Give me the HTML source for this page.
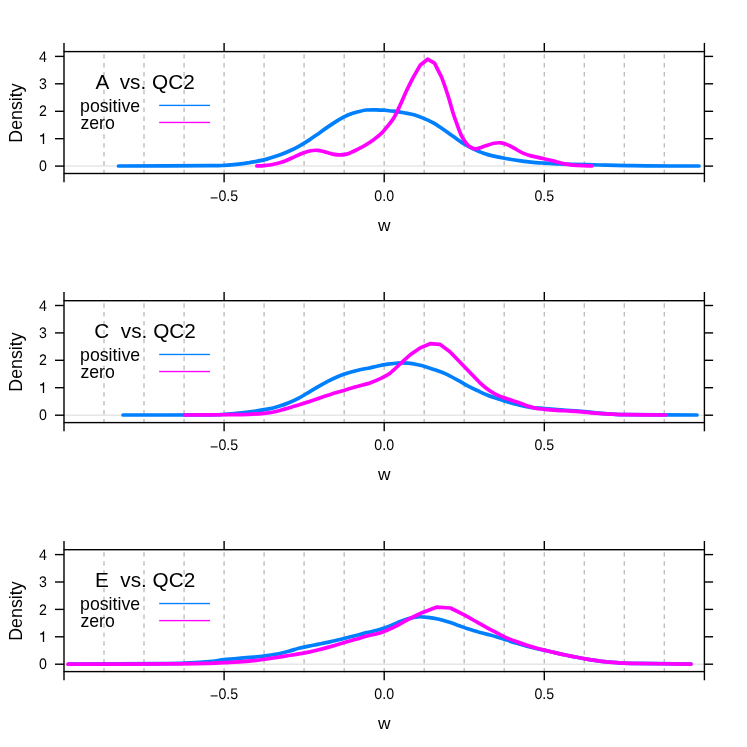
<!DOCTYPE html>
<html><head><meta charset="utf-8"><title>Density</title>
<style>
html,body{margin:0;padding:0;background:#fff;}
body{width:747px;height:747px;overflow:hidden;font-family:"Liberation Sans",sans-serif;}
svg{display:block;will-change:transform;}
text{font-family:"Liberation Sans",sans-serif;fill:#000;}
.tk{font-size:14.2px;text-rendering:geometricPrecision;}
.lb{font-size:17.3px;}
.lg{font-size:17.7px;}
.tt{font-size:20.75px;}
</style></head><body>
<svg width="747" height="747" viewBox="0 0 747 747">
<rect x="0" y="0" width="747" height="747" fill="#ffffff"/>

<g>
<line x1="64.0" y1="166.1" x2="704.35" y2="166.1" stroke="#e6e6e6" stroke-width="1.5"/>
<line x1="104.0" y1="174.30" x2="104.0" y2="51.6" stroke="#bebebe" stroke-width="1.4" stroke-dasharray="4.45,4.45"/>
<line x1="144.0" y1="174.30" x2="144.0" y2="51.6" stroke="#bebebe" stroke-width="1.4" stroke-dasharray="4.45,4.45"/>
<line x1="184.1" y1="174.30" x2="184.1" y2="51.6" stroke="#bebebe" stroke-width="1.4" stroke-dasharray="4.45,4.45"/>
<line x1="224.1" y1="174.30" x2="224.1" y2="51.6" stroke="#bebebe" stroke-width="1.4" stroke-dasharray="4.45,4.45"/>
<line x1="264.1" y1="174.30" x2="264.1" y2="51.6" stroke="#bebebe" stroke-width="1.4" stroke-dasharray="4.45,4.45"/>
<line x1="304.1" y1="174.30" x2="304.1" y2="51.6" stroke="#bebebe" stroke-width="1.4" stroke-dasharray="4.45,4.45"/>
<line x1="344.2" y1="174.30" x2="344.2" y2="51.6" stroke="#bebebe" stroke-width="1.4" stroke-dasharray="4.45,4.45"/>
<line x1="384.2" y1="174.30" x2="384.2" y2="51.6" stroke="#bebebe" stroke-width="1.4" stroke-dasharray="4.45,4.45"/>
<line x1="424.2" y1="174.30" x2="424.2" y2="51.6" stroke="#bebebe" stroke-width="1.4" stroke-dasharray="4.45,4.45"/>
<line x1="464.2" y1="174.30" x2="464.2" y2="51.6" stroke="#bebebe" stroke-width="1.4" stroke-dasharray="4.45,4.45"/>
<line x1="504.2" y1="174.30" x2="504.2" y2="51.6" stroke="#bebebe" stroke-width="1.4" stroke-dasharray="4.45,4.45"/>
<line x1="544.3" y1="174.30" x2="544.3" y2="51.6" stroke="#bebebe" stroke-width="1.4" stroke-dasharray="4.45,4.45"/>
<line x1="584.3" y1="174.30" x2="584.3" y2="51.6" stroke="#bebebe" stroke-width="1.4" stroke-dasharray="4.45,4.45"/>
<line x1="624.3" y1="174.30" x2="624.3" y2="51.6" stroke="#bebebe" stroke-width="1.4" stroke-dasharray="4.45,4.45"/>
<line x1="664.3" y1="174.30" x2="664.3" y2="51.6" stroke="#bebebe" stroke-width="1.4" stroke-dasharray="4.45,4.45"/>
<path d="M118.5,166.0 C133.6,165.9 191.4,165.8 209.0,165.7 C226.6,165.6 219.0,165.6 224.0,165.3 C228.9,165.0 234.8,164.5 238.9,164.1 C243.1,163.7 244.7,163.4 248.9,162.7 C253.1,162.0 258.9,161.1 263.9,159.9 C268.8,158.7 274.7,156.7 278.8,155.3 C283.0,153.9 285.5,152.8 288.8,151.3 C292.1,149.8 295.4,148.2 298.8,146.3 C302.1,144.5 305.4,142.5 308.7,140.4 C312.1,138.2 315.4,135.7 318.7,133.4 C322.0,131.0 325.4,128.6 328.7,126.4 C332.0,124.1 335.3,121.7 338.7,119.8 C342.0,117.9 345.4,116.1 348.6,114.8 C351.9,113.5 355.1,112.6 358.0,111.8 C360.9,111.0 363.0,110.4 366.0,110.0 C369.0,109.7 373.0,109.8 376.0,109.8 C378.9,109.9 380.9,110.0 383.9,110.2 C386.9,110.5 390.6,110.8 393.9,111.2 C397.2,111.7 400.6,112.2 403.9,112.8 C407.2,113.4 410.5,113.9 413.9,114.8 C417.2,115.7 420.5,117.0 423.8,118.4 C427.2,119.8 430.5,121.3 433.8,123.2 C437.1,125.1 440.5,127.5 443.8,129.8 C447.1,132.0 450.4,134.4 453.8,136.8 C457.1,139.1 460.4,141.7 463.7,143.7 C467.0,145.8 470.4,147.5 473.7,149.1 C477.0,150.7 480.3,152.2 483.7,153.3 C487.0,154.5 489.8,155.2 493.6,156.1 C497.5,157.0 502.8,157.9 507.0,158.7 C511.2,159.5 515.0,160.1 519.0,160.7 C523.0,161.3 526.8,161.7 530.9,162.1 C535.1,162.5 539.6,162.8 543.9,163.1 C548.2,163.4 552.4,163.6 556.9,163.8 C561.4,164.0 565.8,164.1 570.8,164.3 C575.8,164.4 580.8,164.5 586.8,164.7 C592.8,164.8 600.1,165.0 606.7,165.2 C613.4,165.3 620.0,165.5 626.7,165.6 C633.3,165.7 634.6,165.8 646.6,165.9 C658.7,166.0 690.3,166.0 699.0,166.0" fill="none" stroke="#0080ff" stroke-width="3.7" stroke-linecap="round" stroke-linejoin="round"/>
<path d="M256.9,165.9 C258.0,165.9 261.0,166.0 263.9,165.7 C266.7,165.4 270.5,165.0 273.8,164.3 C277.2,163.6 280.5,162.7 283.8,161.5 C287.1,160.3 290.5,158.6 293.8,157.1 C297.1,155.6 300.9,153.8 303.8,152.7 C306.6,151.7 308.4,151.1 310.7,150.7 C313.1,150.3 315.4,150.1 317.7,150.3 C320.0,150.5 322.2,151.3 324.7,151.9 C327.2,152.6 330.2,153.6 332.7,154.1 C335.2,154.6 337.3,154.9 339.7,154.9 C342.0,154.9 344.5,154.6 346.6,154.1 C348.8,153.6 350.7,152.6 352.6,151.7 C354.5,150.9 355.8,150.3 358.0,149.1 C360.2,148.0 363.3,146.4 366.0,144.7 C368.6,143.1 371.3,141.3 374.0,139.4 C376.6,137.4 379.6,135.0 381.9,132.8 C384.3,130.5 385.9,128.3 387.9,125.8 C389.9,123.3 391.9,121.2 393.9,117.8 C395.9,114.4 397.9,109.9 400.0,105.4 C402.1,100.9 404.2,95.7 406.4,91.0 C408.6,86.3 411.0,81.6 413.2,77.3 L420.1,65.3 L427.6,59.2 L434.5,63.2 L441.4,76.9 C443.7,82.4 446.2,90.1 448.1,96.0 C450.0,101.9 451.4,107.7 452.9,112.5 C454.4,117.3 455.7,120.8 457.1,124.6 C458.5,128.4 460.0,132.6 461.3,135.4 C462.6,138.2 463.7,139.7 464.9,141.4 C466.1,143.1 466.9,144.4 468.6,145.7 C470.3,146.9 472.6,148.8 475.2,148.9 C477.8,149.0 481.1,147.2 484.2,146.3 C487.3,145.4 491.1,143.8 493.9,143.2 C496.7,142.7 498.7,142.6 501.1,142.9 C503.5,143.2 506.0,144.1 508.3,145.1 C510.6,146.1 512.5,147.4 515.0,148.7 C517.4,150.1 520.3,151.9 523.0,153.1 C525.6,154.3 527.4,155.0 530.9,155.9 C534.4,156.8 540.2,157.9 543.9,158.7 C547.6,159.5 549.7,160.1 552.9,160.9 C556.0,161.7 559.5,162.8 562.9,163.5 C566.2,164.2 569.5,164.7 572.8,165.1 C576.2,165.5 579.6,165.6 582.8,165.7 C586.0,165.8 590.3,165.9 591.8,165.9" fill="none" stroke="#ff00ff" stroke-width="3.7" stroke-linecap="round" stroke-linejoin="round"/>
<rect x="64.0" y="51.6" width="640.4" height="121.9" fill="none" stroke="#000" stroke-width="1.4"/>
<line x1="64.0" y1="51.6" x2="64.0" y2="42.9" stroke="#000" stroke-width="1.4"/>
<line x1="64.0" y1="173.5" x2="64.0" y2="182.2" stroke="#000" stroke-width="1.4"/>
<line x1="224.1" y1="51.6" x2="224.1" y2="42.9" stroke="#000" stroke-width="1.4"/>
<line x1="224.1" y1="173.5" x2="224.1" y2="182.2" stroke="#000" stroke-width="1.4"/>
<line x1="384.2" y1="51.6" x2="384.2" y2="42.9" stroke="#000" stroke-width="1.4"/>
<line x1="384.2" y1="173.5" x2="384.2" y2="182.2" stroke="#000" stroke-width="1.4"/>
<line x1="544.3" y1="51.6" x2="544.3" y2="42.9" stroke="#000" stroke-width="1.4"/>
<line x1="544.3" y1="173.5" x2="544.3" y2="182.2" stroke="#000" stroke-width="1.4"/>
<line x1="704.4" y1="51.6" x2="704.4" y2="42.9" stroke="#000" stroke-width="1.4"/>
<line x1="704.4" y1="173.5" x2="704.4" y2="182.2" stroke="#000" stroke-width="1.4"/>
<line x1="64.0" y1="166.1" x2="55.0" y2="166.1" stroke="#000" stroke-width="1.4"/>
<line x1="704.35" y1="166.1" x2="713.1" y2="166.1" stroke="#000" stroke-width="1.4"/>
<text class="tk" transform="translate(46.8,171.2) scale(1,1.08)" text-anchor="end">0</text>
<line x1="64.0" y1="138.7" x2="55.0" y2="138.7" stroke="#000" stroke-width="1.4"/>
<line x1="704.35" y1="138.7" x2="713.1" y2="138.7" stroke="#000" stroke-width="1.4"/>
<path transform="translate(0,138.68)" d="M44.15,-5.5 L44.15,5.2 L42.85,5.2 L42.85,-2.3 L40.0,-2.3 L40.0,-3.4 C41.8,-3.5 42.9,-4.2 43.25,-5.5 Z" fill="#000"/>
<line x1="64.0" y1="111.3" x2="55.0" y2="111.3" stroke="#000" stroke-width="1.4"/>
<line x1="704.35" y1="111.3" x2="713.1" y2="111.3" stroke="#000" stroke-width="1.4"/>
<text class="tk" transform="translate(46.8,116.4) scale(1,1.08)" text-anchor="end">2</text>
<line x1="64.0" y1="83.8" x2="55.0" y2="83.8" stroke="#000" stroke-width="1.4"/>
<line x1="704.35" y1="83.8" x2="713.1" y2="83.8" stroke="#000" stroke-width="1.4"/>
<text class="tk" transform="translate(46.8,88.9) scale(1,1.08)" text-anchor="end">3</text>
<line x1="64.0" y1="56.4" x2="55.0" y2="56.4" stroke="#000" stroke-width="1.4"/>
<line x1="704.35" y1="56.4" x2="713.1" y2="56.4" stroke="#000" stroke-width="1.4"/>
<text class="tk" transform="translate(46.8,61.5) scale(1,1.08)" text-anchor="end">4</text>
<text class="tk" transform="translate(224.1,200.7) scale(1,1.08)" text-anchor="middle"><tspan dy="1.9">−</tspan><tspan dy="-1.9">0.5</tspan></text>
<text class="tk" transform="translate(384.2,200.7) scale(1,1.08)" text-anchor="middle">0.0</text>
<text class="tk" transform="translate(544.3,200.7) scale(1,1.08)" text-anchor="middle">0.5</text>
<text class="lb" x="384.2" y="230.7" text-anchor="middle">w</text>
<text class="lb" style="font-size:17.8px" transform="translate(21.5,113.0) rotate(-90)" text-anchor="middle">Density</text>
<text class="tt" text-anchor="middle" x="145.1" y="88.8" xml:space="preserve">A  vs. QC2</text>
<text class="lg" x="80.1" y="111.7">positive</text>
<text class="lg" x="80.4" y="129.0">zero</text>
<rect x="159.2" y="104.72" width="50.7" height="1.36" fill="#0080ff"/>
<rect x="159.2" y="121.78" width="50.7" height="1.36" fill="#ff00ff"/>
</g>
<g>
<line x1="64.0" y1="415.2" x2="704.35" y2="415.2" stroke="#e6e6e6" stroke-width="1.5"/>
<line x1="104.0" y1="423.37" x2="104.0" y2="300.7" stroke="#bebebe" stroke-width="1.4" stroke-dasharray="4.45,4.45"/>
<line x1="144.0" y1="423.37" x2="144.0" y2="300.7" stroke="#bebebe" stroke-width="1.4" stroke-dasharray="4.45,4.45"/>
<line x1="184.1" y1="423.37" x2="184.1" y2="300.7" stroke="#bebebe" stroke-width="1.4" stroke-dasharray="4.45,4.45"/>
<line x1="224.1" y1="423.37" x2="224.1" y2="300.7" stroke="#bebebe" stroke-width="1.4" stroke-dasharray="4.45,4.45"/>
<line x1="264.1" y1="423.37" x2="264.1" y2="300.7" stroke="#bebebe" stroke-width="1.4" stroke-dasharray="4.45,4.45"/>
<line x1="304.1" y1="423.37" x2="304.1" y2="300.7" stroke="#bebebe" stroke-width="1.4" stroke-dasharray="4.45,4.45"/>
<line x1="344.2" y1="423.37" x2="344.2" y2="300.7" stroke="#bebebe" stroke-width="1.4" stroke-dasharray="4.45,4.45"/>
<line x1="384.2" y1="423.37" x2="384.2" y2="300.7" stroke="#bebebe" stroke-width="1.4" stroke-dasharray="4.45,4.45"/>
<line x1="424.2" y1="423.37" x2="424.2" y2="300.7" stroke="#bebebe" stroke-width="1.4" stroke-dasharray="4.45,4.45"/>
<line x1="464.2" y1="423.37" x2="464.2" y2="300.7" stroke="#bebebe" stroke-width="1.4" stroke-dasharray="4.45,4.45"/>
<line x1="504.2" y1="423.37" x2="504.2" y2="300.7" stroke="#bebebe" stroke-width="1.4" stroke-dasharray="4.45,4.45"/>
<line x1="544.3" y1="423.37" x2="544.3" y2="300.7" stroke="#bebebe" stroke-width="1.4" stroke-dasharray="4.45,4.45"/>
<line x1="584.3" y1="423.37" x2="584.3" y2="300.7" stroke="#bebebe" stroke-width="1.4" stroke-dasharray="4.45,4.45"/>
<line x1="624.3" y1="423.37" x2="624.3" y2="300.7" stroke="#bebebe" stroke-width="1.4" stroke-dasharray="4.45,4.45"/>
<line x1="664.3" y1="423.37" x2="664.3" y2="300.7" stroke="#bebebe" stroke-width="1.4" stroke-dasharray="4.45,4.45"/>
<path d="M123.0,415.0 C137.3,415.0 192.2,415.0 209.0,414.9 C225.8,414.8 219.0,414.6 224.0,414.3 C228.9,414.0 233.9,413.6 238.9,413.1 C243.9,412.6 248.9,412.0 253.9,411.3 C258.9,410.6 264.7,409.7 268.8,408.9 C273.0,408.1 275.5,407.3 278.8,406.3 C282.1,405.3 285.5,404.1 288.8,402.7 C292.1,401.4 295.4,399.9 298.8,398.1 C302.1,396.4 305.4,394.3 308.7,392.3 C312.1,390.4 315.4,388.3 318.7,386.4 C322.0,384.4 325.4,382.5 328.7,380.8 C332.0,379.1 335.3,377.5 338.7,376.2 C342.0,374.9 345.4,373.8 348.6,372.8 C351.9,371.8 354.8,371.1 358.0,370.3 C361.2,369.5 364.6,368.9 368.0,368.2 C371.3,367.5 374.6,366.7 377.9,366.0 C381.3,365.3 384.6,364.7 387.9,364.2 C391.2,363.7 394.6,363.2 397.9,363.0 C401.2,362.9 404.5,362.9 407.9,363.2 C411.2,363.5 414.5,364.1 417.8,364.8 C421.2,365.5 424.5,366.4 427.8,367.4 C431.1,368.4 434.5,369.6 437.8,370.8 C441.1,372.0 444.4,373.2 447.8,374.8 C451.1,376.4 454.4,378.3 457.7,380.2 C461.1,382.0 464.4,384.0 467.7,385.8 C471.0,387.5 474.4,389.2 477.7,390.7 C481.0,392.3 484.3,394.0 487.7,395.3 C491.0,396.7 494.4,397.7 497.6,398.7 C500.9,399.8 503.4,400.7 507.0,401.7 C510.6,402.8 515.0,404.0 519.0,404.9 C523.0,405.8 526.6,406.7 530.9,407.3 C535.3,407.9 540.6,408.1 544.9,408.5 C549.2,408.9 552.5,409.2 556.9,409.5 C561.2,409.8 566.2,410.1 570.8,410.5 C575.5,410.9 580.1,411.3 584.8,411.7 C589.5,412.1 594.1,412.7 598.8,413.1 C603.4,413.5 608.1,413.8 612.7,414.1 C617.4,414.4 612.6,414.5 626.7,414.7 C640.7,414.8 685.3,414.9 697.0,415.0" fill="none" stroke="#0080ff" stroke-width="3.7" stroke-linecap="round" stroke-linejoin="round"/>
<path d="M184.5,415.0 C188.6,415.0 201.6,414.9 209.0,414.9 C216.4,414.8 222.3,414.8 228.9,414.7 C235.6,414.6 243.1,414.5 248.9,414.3 C254.7,414.1 259.5,413.7 263.9,413.3 C268.2,412.9 271.3,412.4 274.8,411.7 C278.3,411.0 281.5,410.0 284.8,409.1 C288.1,408.2 291.5,407.1 294.8,406.1 C298.1,405.1 301.4,404.0 304.8,402.9 C308.1,401.9 311.4,400.8 314.7,399.7 C318.0,398.6 321.4,397.4 324.7,396.3 C328.0,395.2 331.3,394.2 334.7,393.1 C338.0,392.1 341.7,391.0 344.6,390.2 C347.6,389.3 350.4,388.4 352.6,387.8 C354.9,387.1 355.1,387.0 358.0,386.2 C360.9,385.3 366.1,384.2 370.0,382.9 C373.8,381.6 377.6,380.0 380.9,378.4 C384.3,376.8 386.8,375.6 390.0,373.2 C393.2,370.8 396.9,366.8 400.2,363.8 C403.5,360.8 406.6,357.8 409.9,355.1 L420.1,347.9 L430.1,343.7 L439.8,344.3 L449.6,351.5 L459.6,361.7 C462.9,365.1 466.1,368.5 469.5,372.0 C472.9,375.5 476.6,379.7 480.0,382.8 C483.4,385.9 486.4,388.5 489.7,390.7 C492.9,393.0 496.7,394.8 499.6,396.1 C502.5,397.5 504.1,397.7 507.0,398.7 C509.9,399.7 513.6,401.0 517.0,402.1 C520.3,403.3 524.0,404.7 526.9,405.7 C529.9,406.7 531.9,407.5 534.9,408.1 C537.9,408.7 541.2,408.9 544.9,409.3 C548.6,409.7 552.5,410.0 556.9,410.3 C561.2,410.6 566.2,410.8 570.8,411.1 C575.5,411.4 580.1,411.7 584.8,412.1 C589.5,412.5 594.1,413.0 598.8,413.3 C603.4,413.6 608.1,413.9 612.7,414.1 C617.4,414.3 617.9,414.5 626.7,414.7 C635.5,414.8 659.0,414.9 665.5,415.0" fill="none" stroke="#ff00ff" stroke-width="3.7" stroke-linecap="round" stroke-linejoin="round"/>
<rect x="64.0" y="300.7" width="640.4" height="121.9" fill="none" stroke="#000" stroke-width="1.4"/>
<line x1="64.0" y1="300.7" x2="64.0" y2="292.0" stroke="#000" stroke-width="1.4"/>
<line x1="64.0" y1="422.6" x2="64.0" y2="431.3" stroke="#000" stroke-width="1.4"/>
<line x1="224.1" y1="300.7" x2="224.1" y2="292.0" stroke="#000" stroke-width="1.4"/>
<line x1="224.1" y1="422.6" x2="224.1" y2="431.3" stroke="#000" stroke-width="1.4"/>
<line x1="384.2" y1="300.7" x2="384.2" y2="292.0" stroke="#000" stroke-width="1.4"/>
<line x1="384.2" y1="422.6" x2="384.2" y2="431.3" stroke="#000" stroke-width="1.4"/>
<line x1="544.3" y1="300.7" x2="544.3" y2="292.0" stroke="#000" stroke-width="1.4"/>
<line x1="544.3" y1="422.6" x2="544.3" y2="431.3" stroke="#000" stroke-width="1.4"/>
<line x1="704.4" y1="300.7" x2="704.4" y2="292.0" stroke="#000" stroke-width="1.4"/>
<line x1="704.4" y1="422.6" x2="704.4" y2="431.3" stroke="#000" stroke-width="1.4"/>
<line x1="64.0" y1="415.2" x2="55.0" y2="415.2" stroke="#000" stroke-width="1.4"/>
<line x1="704.35" y1="415.2" x2="713.1" y2="415.2" stroke="#000" stroke-width="1.4"/>
<text class="tk" transform="translate(46.8,420.3) scale(1,1.08)" text-anchor="end">0</text>
<line x1="64.0" y1="387.7" x2="55.0" y2="387.7" stroke="#000" stroke-width="1.4"/>
<line x1="704.35" y1="387.7" x2="713.1" y2="387.7" stroke="#000" stroke-width="1.4"/>
<path transform="translate(0,387.75)" d="M44.15,-5.5 L44.15,5.2 L42.85,5.2 L42.85,-2.3 L40.0,-2.3 L40.0,-3.4 C41.8,-3.5 42.9,-4.2 43.25,-5.5 Z" fill="#000"/>
<line x1="64.0" y1="360.3" x2="55.0" y2="360.3" stroke="#000" stroke-width="1.4"/>
<line x1="704.35" y1="360.3" x2="713.1" y2="360.3" stroke="#000" stroke-width="1.4"/>
<text class="tk" transform="translate(46.8,365.4) scale(1,1.08)" text-anchor="end">2</text>
<line x1="64.0" y1="332.9" x2="55.0" y2="332.9" stroke="#000" stroke-width="1.4"/>
<line x1="704.35" y1="332.9" x2="713.1" y2="332.9" stroke="#000" stroke-width="1.4"/>
<text class="tk" transform="translate(46.8,338.0) scale(1,1.08)" text-anchor="end">3</text>
<line x1="64.0" y1="305.5" x2="55.0" y2="305.5" stroke="#000" stroke-width="1.4"/>
<line x1="704.35" y1="305.5" x2="713.1" y2="305.5" stroke="#000" stroke-width="1.4"/>
<text class="tk" transform="translate(46.8,310.6) scale(1,1.08)" text-anchor="end">4</text>
<text class="tk" transform="translate(224.1,449.8) scale(1,1.08)" text-anchor="middle"><tspan dy="1.9">−</tspan><tspan dy="-1.9">0.5</tspan></text>
<text class="tk" transform="translate(384.2,449.8) scale(1,1.08)" text-anchor="middle">0.0</text>
<text class="tk" transform="translate(544.3,449.8) scale(1,1.08)" text-anchor="middle">0.5</text>
<text class="lb" x="384.2" y="479.8" text-anchor="middle">w</text>
<text class="lb" style="font-size:17.8px" transform="translate(21.5,362.0) rotate(-90)" text-anchor="middle">Density</text>
<text class="tt" text-anchor="middle" x="145.1" y="337.9" xml:space="preserve">C  vs. QC2</text>
<text class="lg" x="80.1" y="360.8">positive</text>
<text class="lg" x="80.4" y="378.1">zero</text>
<rect x="159.2" y="353.79" width="50.7" height="1.36" fill="#0080ff"/>
<rect x="159.2" y="370.85" width="50.7" height="1.36" fill="#ff00ff"/>
</g>
<g>
<line x1="64.0" y1="664.2" x2="704.35" y2="664.2" stroke="#e6e6e6" stroke-width="1.5"/>
<line x1="104.0" y1="672.44" x2="104.0" y2="549.7" stroke="#bebebe" stroke-width="1.4" stroke-dasharray="4.45,4.45"/>
<line x1="144.0" y1="672.44" x2="144.0" y2="549.7" stroke="#bebebe" stroke-width="1.4" stroke-dasharray="4.45,4.45"/>
<line x1="184.1" y1="672.44" x2="184.1" y2="549.7" stroke="#bebebe" stroke-width="1.4" stroke-dasharray="4.45,4.45"/>
<line x1="224.1" y1="672.44" x2="224.1" y2="549.7" stroke="#bebebe" stroke-width="1.4" stroke-dasharray="4.45,4.45"/>
<line x1="264.1" y1="672.44" x2="264.1" y2="549.7" stroke="#bebebe" stroke-width="1.4" stroke-dasharray="4.45,4.45"/>
<line x1="304.1" y1="672.44" x2="304.1" y2="549.7" stroke="#bebebe" stroke-width="1.4" stroke-dasharray="4.45,4.45"/>
<line x1="344.2" y1="672.44" x2="344.2" y2="549.7" stroke="#bebebe" stroke-width="1.4" stroke-dasharray="4.45,4.45"/>
<line x1="384.2" y1="672.44" x2="384.2" y2="549.7" stroke="#bebebe" stroke-width="1.4" stroke-dasharray="4.45,4.45"/>
<line x1="424.2" y1="672.44" x2="424.2" y2="549.7" stroke="#bebebe" stroke-width="1.4" stroke-dasharray="4.45,4.45"/>
<line x1="464.2" y1="672.44" x2="464.2" y2="549.7" stroke="#bebebe" stroke-width="1.4" stroke-dasharray="4.45,4.45"/>
<line x1="504.2" y1="672.44" x2="504.2" y2="549.7" stroke="#bebebe" stroke-width="1.4" stroke-dasharray="4.45,4.45"/>
<line x1="544.3" y1="672.44" x2="544.3" y2="549.7" stroke="#bebebe" stroke-width="1.4" stroke-dasharray="4.45,4.45"/>
<line x1="584.3" y1="672.44" x2="584.3" y2="549.7" stroke="#bebebe" stroke-width="1.4" stroke-dasharray="4.45,4.45"/>
<line x1="624.3" y1="672.44" x2="624.3" y2="549.7" stroke="#bebebe" stroke-width="1.4" stroke-dasharray="4.45,4.45"/>
<line x1="664.3" y1="672.44" x2="664.3" y2="549.7" stroke="#bebebe" stroke-width="1.4" stroke-dasharray="4.45,4.45"/>
<path d="M68.6,664.2 C83.8,664.1 139.6,663.9 159.7,663.7 C179.9,663.5 181.5,663.2 189.7,662.9 C197.9,662.6 203.3,662.2 209.0,661.7 C214.7,661.2 219.0,660.3 224.0,659.7 C228.9,659.1 233.9,658.7 238.9,658.3 C243.9,657.9 248.9,657.6 253.9,657.1 C258.9,656.6 264.7,655.9 268.8,655.3 C273.0,654.7 275.5,654.4 278.8,653.7 C282.1,653.0 285.5,652.2 288.8,651.3 C292.1,650.4 295.4,649.2 298.8,648.3 C302.1,647.5 305.4,646.8 308.7,646.1 C312.1,645.4 315.4,644.8 318.7,644.1 C322.0,643.5 325.4,642.9 328.7,642.1 C332.0,641.4 335.3,640.6 338.7,639.7 C342.0,638.9 345.4,638.0 348.6,637.2 C351.9,636.4 354.8,635.8 358.0,635.0 C361.2,634.2 364.6,633.2 368.0,632.4 C371.3,631.5 374.6,630.9 377.9,630.0 C381.3,629.0 384.6,628.0 387.9,626.8 C391.2,625.5 394.6,623.7 397.9,622.4 C401.2,621.1 404.5,619.7 407.9,618.8 C411.2,617.9 414.5,617.0 417.8,616.8 C421.2,616.6 424.5,617.0 427.8,617.4 C431.1,617.8 434.5,618.3 437.8,619.0 C441.1,619.7 444.4,620.8 447.8,621.8 C451.1,622.8 454.4,624.0 457.7,625.2 C461.1,626.3 464.4,627.7 467.7,628.8 C471.0,629.9 474.4,630.8 477.7,631.8 C481.0,632.7 484.3,633.5 487.7,634.4 C491.0,635.3 494.4,636.2 497.6,637.2 C500.9,638.1 503.8,639.1 507.0,640.1 C510.2,641.2 513.6,642.3 517.0,643.3 C520.3,644.4 523.6,645.4 526.9,646.3 C530.3,647.2 533.6,648.0 536.9,648.7 C540.2,649.5 543.6,650.0 546.9,650.7 C550.2,651.5 553.5,652.3 556.9,653.1 C560.2,653.9 563.5,654.6 566.8,655.3 C570.2,656.0 573.5,656.7 576.8,657.3 C580.1,657.9 583.5,658.5 586.8,659.1 C590.1,659.7 593.4,660.2 596.8,660.7 C600.1,661.2 603.4,661.6 606.7,661.9 C610.1,662.2 612.7,662.5 616.7,662.7 C620.7,662.9 618.3,663.1 630.7,663.3 C643.1,663.5 680.9,663.9 691.0,664.0" fill="none" stroke="#0080ff" stroke-width="3.7" stroke-linecap="round" stroke-linejoin="round"/>
<path d="M68.0,664.2 C85.0,664.1 146.2,664.0 169.7,663.9 C193.2,663.7 200.0,663.5 209.0,663.3 C218.1,663.1 219.0,662.9 224.0,662.7 C228.9,662.5 233.9,662.2 238.9,661.9 C243.9,661.6 248.9,661.2 253.9,660.7 C258.9,660.2 264.7,659.3 268.8,658.7 C273.0,658.1 275.5,657.6 278.8,657.1 C282.1,656.6 285.5,656.0 288.8,655.5 C292.1,655.0 295.4,654.5 298.8,653.9 C302.1,653.3 305.4,652.8 308.7,652.1 C312.1,651.4 315.4,650.6 318.7,649.7 C322.0,648.9 325.4,648.0 328.7,647.1 C332.0,646.2 335.3,645.3 338.7,644.3 C342.0,643.4 345.4,642.3 348.6,641.3 C351.9,640.4 354.8,639.6 358.0,638.7 C361.2,637.7 364.3,636.7 368.0,635.8 C371.6,634.8 375.7,634.4 380.0,633.0 C384.3,631.6 389.3,629.4 394.0,627.1 C398.7,624.9 403.3,621.9 408.0,619.5 L422.0,612.7 L436.3,607.2 L450.4,608.0 L464.7,615.1 C469.3,617.6 473.7,620.3 477.9,622.7 C482.1,625.1 486.0,627.2 490.0,629.3 C494.0,631.4 498.8,633.9 501.6,635.4 C504.5,636.8 504.4,636.9 507.0,638.0 C509.6,639.0 513.6,640.5 517.0,641.7 C520.3,643.0 523.6,644.2 526.9,645.3 C530.3,646.4 533.6,647.4 536.9,648.3 C540.2,649.2 543.6,649.9 546.9,650.7 C550.2,651.5 553.5,652.3 556.9,653.1 C560.2,653.9 563.5,654.6 566.8,655.3 C570.2,656.0 573.5,656.7 576.8,657.3 C580.1,657.9 583.5,658.5 586.8,659.1 C590.1,659.7 593.4,660.2 596.8,660.7 C600.1,661.2 603.4,661.6 606.7,661.9 C610.1,662.2 612.7,662.5 616.7,662.7 C620.7,662.9 618.3,663.0 630.7,663.3 C643.1,663.5 680.9,664.0 691.0,664.2" fill="none" stroke="#ff00ff" stroke-width="3.7" stroke-linecap="round" stroke-linejoin="round"/>
<rect x="64.0" y="549.7" width="640.4" height="121.9" fill="none" stroke="#000" stroke-width="1.4"/>
<line x1="64.0" y1="549.7" x2="64.0" y2="541.0" stroke="#000" stroke-width="1.4"/>
<line x1="64.0" y1="671.6" x2="64.0" y2="680.3" stroke="#000" stroke-width="1.4"/>
<line x1="224.1" y1="549.7" x2="224.1" y2="541.0" stroke="#000" stroke-width="1.4"/>
<line x1="224.1" y1="671.6" x2="224.1" y2="680.3" stroke="#000" stroke-width="1.4"/>
<line x1="384.2" y1="549.7" x2="384.2" y2="541.0" stroke="#000" stroke-width="1.4"/>
<line x1="384.2" y1="671.6" x2="384.2" y2="680.3" stroke="#000" stroke-width="1.4"/>
<line x1="544.3" y1="549.7" x2="544.3" y2="541.0" stroke="#000" stroke-width="1.4"/>
<line x1="544.3" y1="671.6" x2="544.3" y2="680.3" stroke="#000" stroke-width="1.4"/>
<line x1="704.4" y1="549.7" x2="704.4" y2="541.0" stroke="#000" stroke-width="1.4"/>
<line x1="704.4" y1="671.6" x2="704.4" y2="680.3" stroke="#000" stroke-width="1.4"/>
<line x1="64.0" y1="664.2" x2="55.0" y2="664.2" stroke="#000" stroke-width="1.4"/>
<line x1="704.35" y1="664.2" x2="713.1" y2="664.2" stroke="#000" stroke-width="1.4"/>
<text class="tk" transform="translate(46.8,669.3) scale(1,1.08)" text-anchor="end">0</text>
<line x1="64.0" y1="636.8" x2="55.0" y2="636.8" stroke="#000" stroke-width="1.4"/>
<line x1="704.35" y1="636.8" x2="713.1" y2="636.8" stroke="#000" stroke-width="1.4"/>
<path transform="translate(0,636.82)" d="M44.15,-5.5 L44.15,5.2 L42.85,5.2 L42.85,-2.3 L40.0,-2.3 L40.0,-3.4 C41.8,-3.5 42.9,-4.2 43.25,-5.5 Z" fill="#000"/>
<line x1="64.0" y1="609.4" x2="55.0" y2="609.4" stroke="#000" stroke-width="1.4"/>
<line x1="704.35" y1="609.4" x2="713.1" y2="609.4" stroke="#000" stroke-width="1.4"/>
<text class="tk" transform="translate(46.8,614.5) scale(1,1.08)" text-anchor="end">2</text>
<line x1="64.0" y1="582.0" x2="55.0" y2="582.0" stroke="#000" stroke-width="1.4"/>
<line x1="704.35" y1="582.0" x2="713.1" y2="582.0" stroke="#000" stroke-width="1.4"/>
<text class="tk" transform="translate(46.8,587.1) scale(1,1.08)" text-anchor="end">3</text>
<line x1="64.0" y1="554.6" x2="55.0" y2="554.6" stroke="#000" stroke-width="1.4"/>
<line x1="704.35" y1="554.6" x2="713.1" y2="554.6" stroke="#000" stroke-width="1.4"/>
<text class="tk" transform="translate(46.8,559.7) scale(1,1.08)" text-anchor="end">4</text>
<text class="tk" transform="translate(224.1,698.8) scale(1,1.08)" text-anchor="middle"><tspan dy="1.9">−</tspan><tspan dy="-1.9">0.5</tspan></text>
<text class="tk" transform="translate(384.2,698.8) scale(1,1.08)" text-anchor="middle">0.0</text>
<text class="tk" transform="translate(544.3,698.8) scale(1,1.08)" text-anchor="middle">0.5</text>
<text class="lb" x="384.2" y="728.8" text-anchor="middle">w</text>
<text class="lb" style="font-size:17.8px" transform="translate(21.5,611.1) rotate(-90)" text-anchor="middle">Density</text>
<text class="tt" text-anchor="middle" x="145.1" y="586.9" xml:space="preserve">E  vs. QC2</text>
<text class="lg" x="80.1" y="609.8">positive</text>
<text class="lg" x="80.4" y="627.1">zero</text>
<rect x="159.2" y="602.86" width="50.7" height="1.36" fill="#0080ff"/>
<rect x="159.2" y="619.92" width="50.7" height="1.36" fill="#ff00ff"/>
</g>
</svg></body></html>
